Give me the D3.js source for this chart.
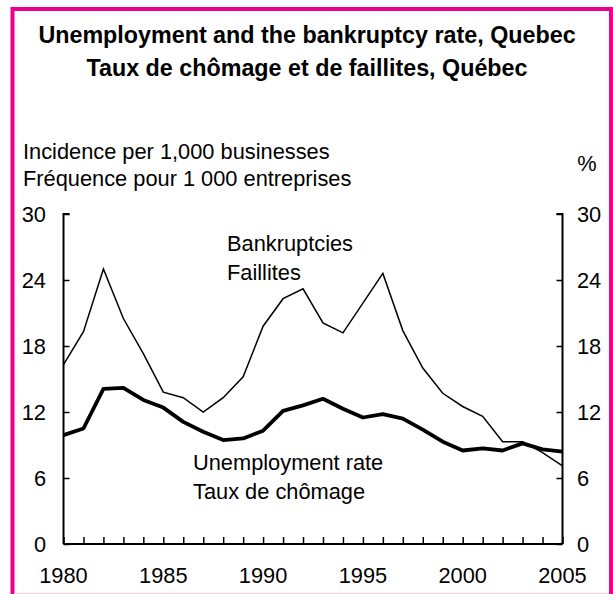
<!DOCTYPE html>
<html><head><meta charset="utf-8">
<script src="https://cdn.jsdelivr.net/npm/d3@7"></script>
<style>html,body{margin:0;padding:0;background:#fff;}svg{display:block;font-family:"Liberation Sans",Arial,sans-serif;}</style>
</head><body>
<svg id="chart" width="613" height="594"></svg>
<script>
const years = d3.range(1980, 2006);
const bankruptcies = [16.3,19.3,25.0,20.5,17.3,13.8,13.3,12.0,13.3,15.2,19.8,22.3,23.2,20.1,19.2,21.9,24.6,19.4,16.0,13.7,12.5,11.6,9.3,9.3,8.3,7.1];
const unemployment = [9.9,10.5,14.1,14.2,13.1,12.4,11.1,10.2,9.45,9.6,10.3,12.1,12.6,13.2,12.3,11.5,11.8,11.4,10.4,9.3,8.5,8.7,8.5,9.15,8.6,8.4];
const yTicks = [0,6,12,18,24,30];
const xTickLabels = [1980,1985,1990,1995,2000,2005];
const titleLines = ["Unemployment and the bankruptcy rate,  Quebec","Taux de chômage et de faillites,  Québec"];
const leftTitle = ["Incidence per 1,000 businesses","Fréquence pour 1 000 entreprises"];
const rightTitle = "%";

const svg = d3.select("#chart");
const pink = "#ec008c";
const fs = 21.8;
const x = d3.scaleLinear().domain([1980,2005]).range([63.5,562.5]);
const y = d3.scaleLinear().domain([0,30]).range([544,214]);

// frame
svg.append("path").attr("d","M12.5,600 L12.5,9 L611,9 L611,600").attr("fill","none").attr("stroke",pink).attr("stroke-width",4);
svg.append("line").attr("x1",14).attr("x2",609).attr("y1",593.5).attr("y2",593.5).attr("stroke","#f7d3e8").attr("stroke-width",1.5);

// title
svg.selectAll("text.title").data(titleLines).join("text").attr("class","title")
  .attr("x",307).attr("y",(d,i)=>43+i*33).attr("text-anchor","middle")
  .attr("font-weight","bold").attr("font-size",23.3).text(d=>d);

svg.selectAll("text.lt").data(leftTitle).join("text").attr("class","lt")
  .attr("x",23).attr("y",(d,i)=>159+i*27).attr("font-size",fs).text(d=>d);
svg.append("text").attr("x",587).attr("y",171).attr("text-anchor","middle").attr("font-size",fs).text(rightTitle);

// axes
const gL = svg.append("g").attr("transform",`translate(${x(1980)},0)`)
  .call(d3.axisRight(y).tickValues(yTicks).tickSize(6).tickFormat(""));
const gR = svg.append("g").attr("transform",`translate(${x(2005)},0)`)
  .call(d3.axisLeft(y).tickValues(yTicks).tickSize(6).tickFormat(""));
const gB = svg.append("g").attr("transform",`translate(0,${y(0)})`)
  .call(d3.axisTop(x).tickValues(years).tickSize(7).tickFormat(""));
[gL,gR,gB].forEach(g=>{
  g.select(".domain").attr("stroke","#000").attr("stroke-width",2);
  g.selectAll(".tick line").attr("stroke","#000").attr("stroke-width",1.5);
});
gL.select(".domain").attr("d",`M6,${y(30)}H0V${y(0)}`);
gR.select(".domain").attr("d",`M-6,${y(30)}H0V${y(0)}`);
gB.select(".domain").attr("d",`M${x(1980)},0H${x(2005)}`);

svg.selectAll("text.yl").data(yTicks).join("text").attr("class","yl")
  .attr("x",46).attr("y",d=>y(d)+8).attr("text-anchor","end").attr("font-size",fs).text(d=>d);
svg.selectAll("text.yr").data(yTicks).join("text").attr("class","yr")
  .attr("x",577).attr("y",d=>y(d)+8).attr("text-anchor","start").attr("font-size",fs).text(d=>d);
svg.selectAll("text.xl").data(xTickLabels).join("text").attr("class","xl")
  .attr("x",d=>x(d)).attr("y",583).attr("text-anchor","middle").attr("font-size",fs).text(d=>d);

// lines
const line = d3.line().x((d,i)=>x(years[i])).y(d=>y(d));
svg.append("path").datum(bankruptcies).attr("d",line).attr("fill","none").attr("stroke","#000").attr("stroke-width",1.5).attr("stroke-linejoin","miter");
svg.append("path").datum(unemployment).attr("d",line).attr("fill","none").attr("stroke","#000").attr("stroke-width",3.8).attr("stroke-linejoin","round");

// labels
svg.selectAll("text.bl").data(["Bankruptcies","Faillites"]).join("text").attr("class","bl")
  .attr("x",227).attr("y",(d,i)=>251+i*29).attr("font-size",fs).text(d=>d);
svg.selectAll("text.ul").data(["Unemployment rate","Taux de chômage"]).join("text").attr("class","ul")
  .attr("x",193).attr("y",(d,i)=>470+i*29).attr("font-size",fs).text(d=>d);
</script>
</body></html>
